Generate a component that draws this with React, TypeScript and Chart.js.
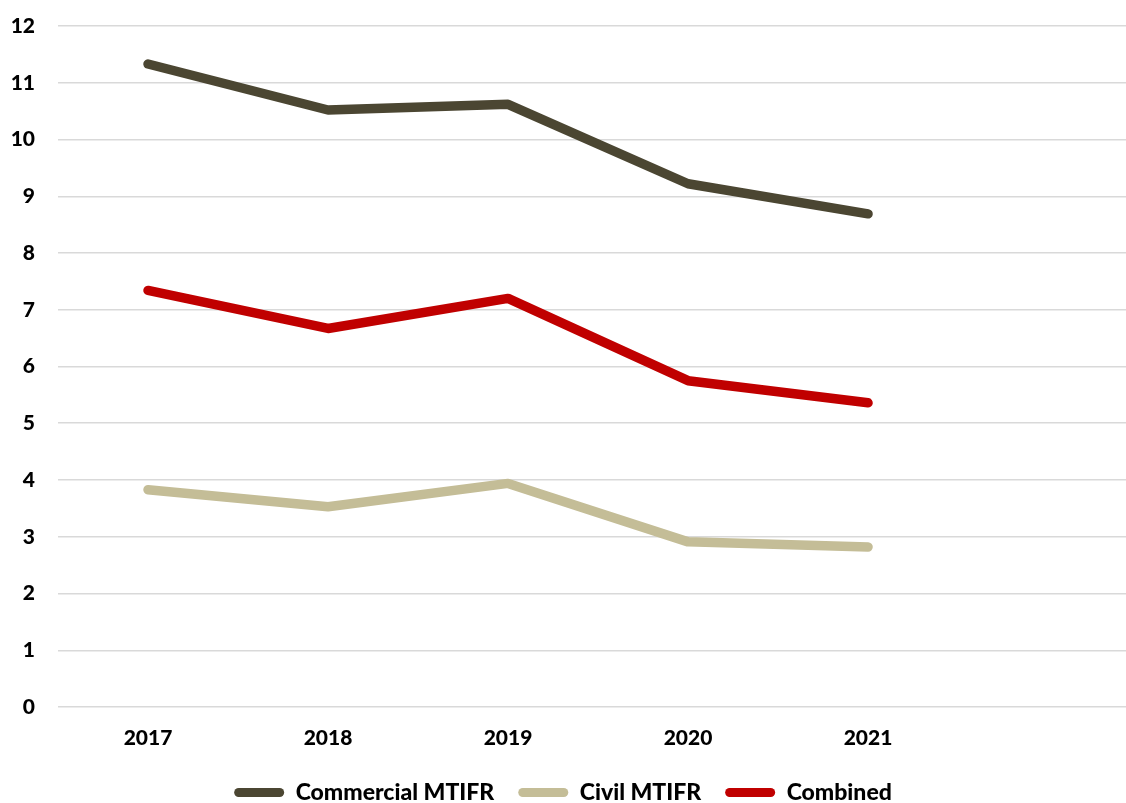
import React, { useEffect, useRef } from "react";
import { Chart, registerables } from "chart.js";

Chart.register(...registerables);

const years = [2017, 2018, 2019, 2020, 2021];
const commercial = [11.33, 10.52, 10.62, 9.22, 8.69];
const civil = [3.83, 3.53, 3.94, 2.91, 2.82];
const combined = [7.34, 6.67, 7.2, 5.75, 5.36];
const yTicks = [0, 1, 2, 3, 4, 5, 6, 7, 8, 9, 10, 11, 12];

const FONT = "Lato, 'Open Sans', sans-serif";
const TICK_FS = 21;
const LEG_FS = 23;

export default function App() {
  const ref = useRef<HTMLCanvasElement | null>(null);
  useEffect(() => {
    if (!ref.current) return;
    const mk = (label: string, vals: number[], color: string) => ({
      label,
      data: years.map((y, i) => ({ x: y, y: vals[i] })),
      borderColor: color,
      backgroundColor: color,
      borderWidth: 9.5,
      borderCapStyle: "round" as const,
      borderJoinStyle: "round" as const,
      pointRadius: 0,
      tension: 0,
    });
    const chart = new Chart(ref.current, {
      type: "line",
      data: {
        datasets: [
          mk("Commercial MTIFR", commercial, "#4b4632"),
          mk("Civil MTIFR", civil, "#c4bd97"),
          mk("Combined", combined, "#c00000"),
        ],
      },
      options: {
        animation: false,
        responsive: false,
        maintainAspectRatio: false,
        layout: { padding: { top: 0, right: 0, left: 0, bottom: -11 } },
        plugins: {
          tooltip: { enabled: false },
          legend: {
            position: "bottom",
            labels: {
              boxWidth: 50,
              boxHeight: 9,
              useBorderRadius: true,
              borderRadius: 4.5,
              padding: 24,
              color: "#000",
              font: { family: FONT, size: LEG_FS, weight: "900" },
              generateLabels: (c: any) =>
                Chart.defaults.plugins.legend.labels
                  .generateLabels(c)
                  .map((l: any) => ({ ...l, lineWidth: 0, strokeStyle: "transparent" })),
            },
          },
        },
        scales: {
          x: {
            type: "linear",
            min: 2016.5,
            max: 2022.433,
            afterBuildTicks: (axis: any) => {
              axis.ticks = years.map((v) => ({ value: v }));
            },
            afterFit: (scale: any) => {
              scale.height = 50;
            },
            grid: { display: false, drawTicks: false },
            border: { display: false },
            ticks: {
              padding: 19,
              color: "#000",
              font: { family: FONT, size: TICK_FS, weight: "900" },
              callback: (v: any) => String(v),
            },
          },
          y: {
            min: 0,
            max: 12,
            afterBuildTicks: (axis: any) => {
              axis.ticks = yTicks.map((v) => ({ value: v }));
            },
            afterFit: (scale: any) => {
              scale.width = 58;
              scale.paddingTop = 26;
              scale.paddingBottom = 0;
            },
            grid: { color: "#d9d9d9", lineWidth: 1.5, drawTicks: false },
            border: { display: false },
            ticks: {
              padding: 23,
              color: "#000",
              font: { family: FONT, size: TICK_FS, weight: "900" },
            },
          },
        },
      },
    });
    return () => chart.destroy();
  }, []);
  return (
    <div style={{ position: "fixed", left: 0, top: 0, width: 1126, height: 803, background: "#fff" }}>
      <canvas ref={ref} width={1126} height={803} style={{ width: 1126, height: 803 }} />
    </div>
  );
}
